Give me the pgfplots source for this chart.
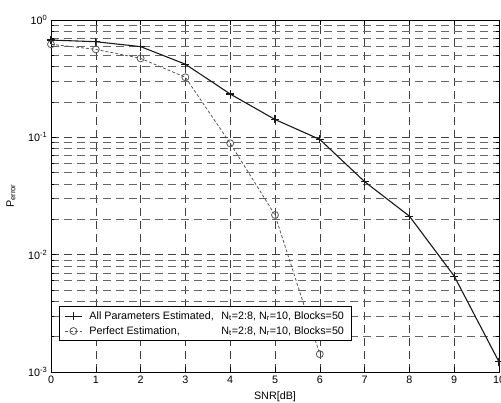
\documentclass[border=0pt]{standalone}
\usepackage{fontspec}
\setmainfont{Liberation Sans}
\usepackage{pgfplots}
\pgfplotsset{compat=1.18}
\begin{document}
\fontsize{10.8}{13}\selectfont
\begin{tikzpicture}
\begin{axis}[
  scale only axis, width=448bp, height=352bp,
  xmin=0, xmax=10, ymin=1e-3, ymax=1, ymode=log,
  xtick={0,1,2,3,4,5,6,7,8,9,10},
  xticklabels={0,1,2,3,4,5,6,7,8,9,10},
  ytick={1e-3,1e-2,1e-1,1},
  yticklabels={10\textsuperscript{-3},10\textsuperscript{-2},10\textsuperscript{-1},10\textsuperscript{0}},
  minor ytick={2e-3,3e-3,4e-3,5e-3,6e-3,7e-3,8e-3,9e-3,2e-2,3e-2,4e-2,5e-2,6e-2,7e-2,8e-2,9e-2,2e-1,3e-1,4e-1,5e-1,6e-1,7e-1,8e-1,9e-1},
  tick align=inside, xtick pos=both, ytick pos=both,
  major tick length=5bp, minor tick length=3bp,
  tick style={black, line width=0.5bp},
  axis line style={black, line width=0.6bp},
  grid=both,
  major grid style={black!75, dash pattern=on 8bp off 5bp, line width=0.5bp},
  minor grid style={black!60, dash pattern=on 8bp off 5bp, line width=0.5bp},
  ticklabel style={font=\fontsize{10.8}{12}\selectfont},
  every axis x label/.style={at={(axis description cs:0.5,0)}, yshift=-25bp, anchor=center},
  every axis y label/.style={at={(axis description cs:0,0.5)}, xshift=-40bp, rotate=90, anchor=center},
  xlabel={SNR[dB]},
  ylabel={P\textsubscript{error}},
  legend style={at={(0.018,0.088)}, anchor=south west, draw=black, fill=white,
    font=\fontsize{10.8}{13}\selectfont, inner xsep=5bp, inner ysep=3bp, line width=0.6bp,
    row sep=1.5bp,
    /tikz/every odd column/.append style={column sep=5bp}},
  legend cell align=left,
]
\addplot[black!90, line width=1.1bp, mark=+, mark size=4bp] coordinates {
  (0,0.675) (1,0.653) (2,0.593) (3,0.42) (4,0.234) (5,0.142) (6,0.096)
  (7,0.0419) (8,0.0213) (9,0.00657) (10,0.00122)
};
\addlegendentry{\makebox[132bp][l]{All Parameters Estimated,}N\textsubscript{t}=2:8, N\textsubscript{r}=10, Blocks=50}
\addplot[black!65, line width=0.8bp, dash pattern=on 3bp off 2bp, mark=o, mark size=3.5bp, mark options={solid}] coordinates {
  (0,0.621) (1,0.562) (2,0.471) (3,0.325) (4,0.0889) (5,0.0218) (6,0.00142)
};
\addlegendentry{\makebox[132bp][l]{Perfect Estimation,}N\textsubscript{t}=2:8, N\textsubscript{r}=10, Blocks=50}
\end{axis}
\pgfresetboundingbox
\useasboundingbox ([shift={(-51bp,-31bp)}]current axis.south west) rectangle ([shift={(2bp,20bp)}]current axis.north east);
\end{tikzpicture}
\end{document}
